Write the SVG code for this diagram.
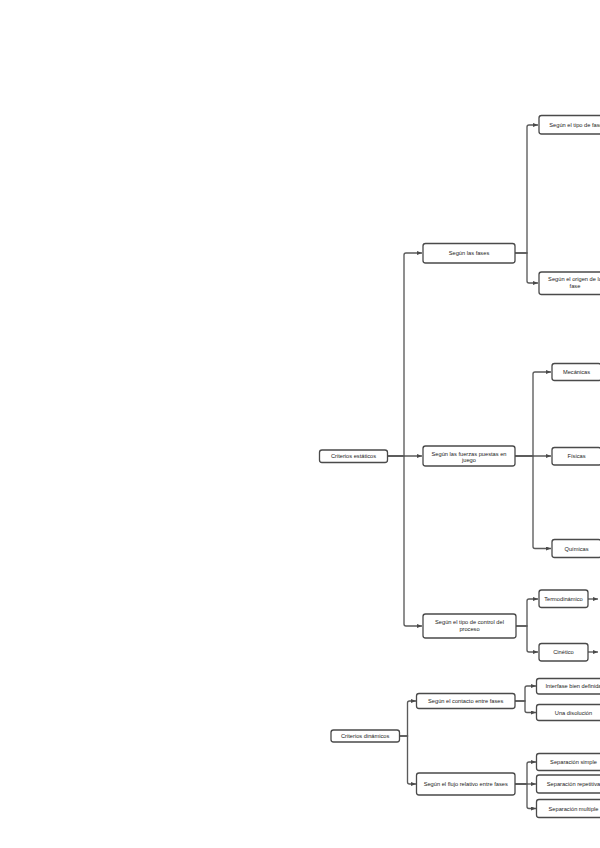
<svg xmlns="http://www.w3.org/2000/svg" width="600" height="848" viewBox="0 0 600 848">
<defs>
<marker id="arr" markerUnits="userSpaceOnUse" markerWidth="6" markerHeight="5" refX="5" refY="2" orient="auto">
<path d="M0,0 L5,2 L0,4 z" fill="#4a4a4a"/>
</marker>
<style>
rect.n{fill:#fff;stroke:#4a4a4a;stroke-width:1.3}
text{font-family:"Liberation Sans",Arial,sans-serif;font-size:5.7px;fill:#222;text-anchor:middle}
#connectors path{fill:none;stroke:#5a5a5a;stroke-width:1.35;marker-end:url(#arr)}
</style>
</defs>
<rect width="600" height="848" fill="#fff"/>
<g id="connectors">
<path d="M387.5,456 H404 V255 Q404,253 406,253 H422"/>
<path d="M387.5,456 H422"/>
<path d="M387.5,456 H404 V624 Q404,626 406,626 H422"/>
<path d="M515,253 H527 V127 Q527,125 529,125 H538"/>
<path d="M515,253 H527 V281 Q527,283 529,283 H538"/>
<path d="M515,456 H533 V374 Q533,372 535,372 H551"/>
<path d="M515,456 H551"/>
<path d="M515,456 H533 V546.5 Q533,548.5 535,548.5 H551"/>
<path d="M516,626 H527 V601 Q527,599 529,599 H538"/>
<path d="M516,626 H527 V650 Q527,652 529,652 H538"/>
<path d="M588,599 H598"/>
<path d="M588,652 H598"/>
<path d="M399.5,736 H407.5 V703 Q407.5,701 409.5,701 H416"/>
<path d="M399.5,736 H407.5 V782 Q407.5,784 409.5,784 H416"/>
<path d="M515,701 H525 V688 Q525,686 527,686 H536"/>
<path d="M515,701 H525 V710.5 Q525,712.5 527,712.5 H536"/>
<path d="M515,784 H527 V764 Q527,762 529,762 H536"/>
<path d="M515,784 H536"/>
<path d="M515,784 H527 V806.5 Q527,808.5 529,808.5 H536"/>
</g>
<g id="n-estaticos"><rect class="n" x="319.5" y="450" width="68" height="12.5" rx="2.5"/><text x="353.5" y="458.1">Criterios estáticos</text></g>
<g id="n-fases"><rect class="n" x="423" y="243.5" width="92" height="19.5" rx="2.5"/><text x="469" y="255.2">Según las fases</text></g>
<g id="n-fuerzas"><rect class="n" x="423" y="446" width="92" height="20" rx="2.5"/><text x="469" y="455.5">Según las fuerzas puestas en</text><text x="469" y="462">juego</text></g>
<g id="n-control"><rect class="n" x="423" y="614" width="93" height="24" rx="2.5"/><text x="469.5" y="624">Según el tipo de control del</text><text x="469.5" y="630.5">proceso</text></g>
<g id="n-tipofase"><rect class="n" x="539" y="115.5" width="74" height="18.5" rx="2.5"/><text x="576" y="126.8">Según el tipo de fase</text></g>
<g id="n-origen"><rect class="n" x="539" y="272" width="72" height="22.5" rx="2.5"/><text x="575" y="281">Según el origen de la</text><text x="575" y="287.5">fase</text></g>
<g id="n-mecanicas"><rect class="n" x="552" y="363.5" width="49" height="17" rx="2.5"/><text x="576.5" y="374">Mecánicas</text></g>
<g id="n-fisicas"><rect class="n" x="552" y="447.5" width="49" height="17.5" rx="2.5"/><text x="576.5" y="458.3">Físicas</text></g>
<g id="n-quimicas"><rect class="n" x="552" y="539.5" width="49" height="18" rx="2.5"/><text x="576.5" y="550.5">Químicas</text></g>
<g id="n-termo"><rect class="n" x="539" y="590" width="49" height="17.5" rx="2.5"/><text x="563.5" y="600.7">Termodinámico</text></g>
<g id="n-cinetico"><rect class="n" x="539" y="643.5" width="49" height="17.5" rx="2.5"/><text x="563.5" y="654.2">Cinético</text></g>
<g id="n-dinamicos"><rect class="n" x="331" y="730" width="68.5" height="12" rx="2.5"/><text x="365.2" y="738">Criterios dinámicos</text></g>
<g id="n-contacto"><rect class="n" x="416.5" y="693.5" width="98.5" height="15" rx="2.5"/><text x="465.7" y="703">Según el contacto entre fases</text></g>
<g id="n-flujo"><rect class="n" x="416.5" y="773" width="98.5" height="22" rx="2.5"/><text x="465.7" y="786">Según el flujo relativo entre fases</text></g>
<g id="n-interfase"><rect class="n" x="536.5" y="678.5" width="74" height="15.5" rx="2.5"/><text x="573.5" y="688.2">Interfase bien definida</text></g>
<g id="n-disolucion"><rect class="n" x="536.5" y="704.5" width="74" height="16" rx="2.5"/><text x="573.5" y="714.5">Una disolución</text></g>
<g id="n-simple"><rect class="n" x="536.5" y="753.5" width="74" height="17" rx="2.5"/><text x="573.5" y="764">Separación simple</text></g>
<g id="n-repetitiva"><rect class="n" x="536.5" y="775" width="74" height="18" rx="2.5"/><text x="573.5" y="786">Separación repetitiva</text></g>
<g id="n-multiple"><rect class="n" x="536.5" y="799.5" width="74" height="18" rx="2.5"/><text x="573.5" y="810.5">Separación multiple</text></g>
</svg>
